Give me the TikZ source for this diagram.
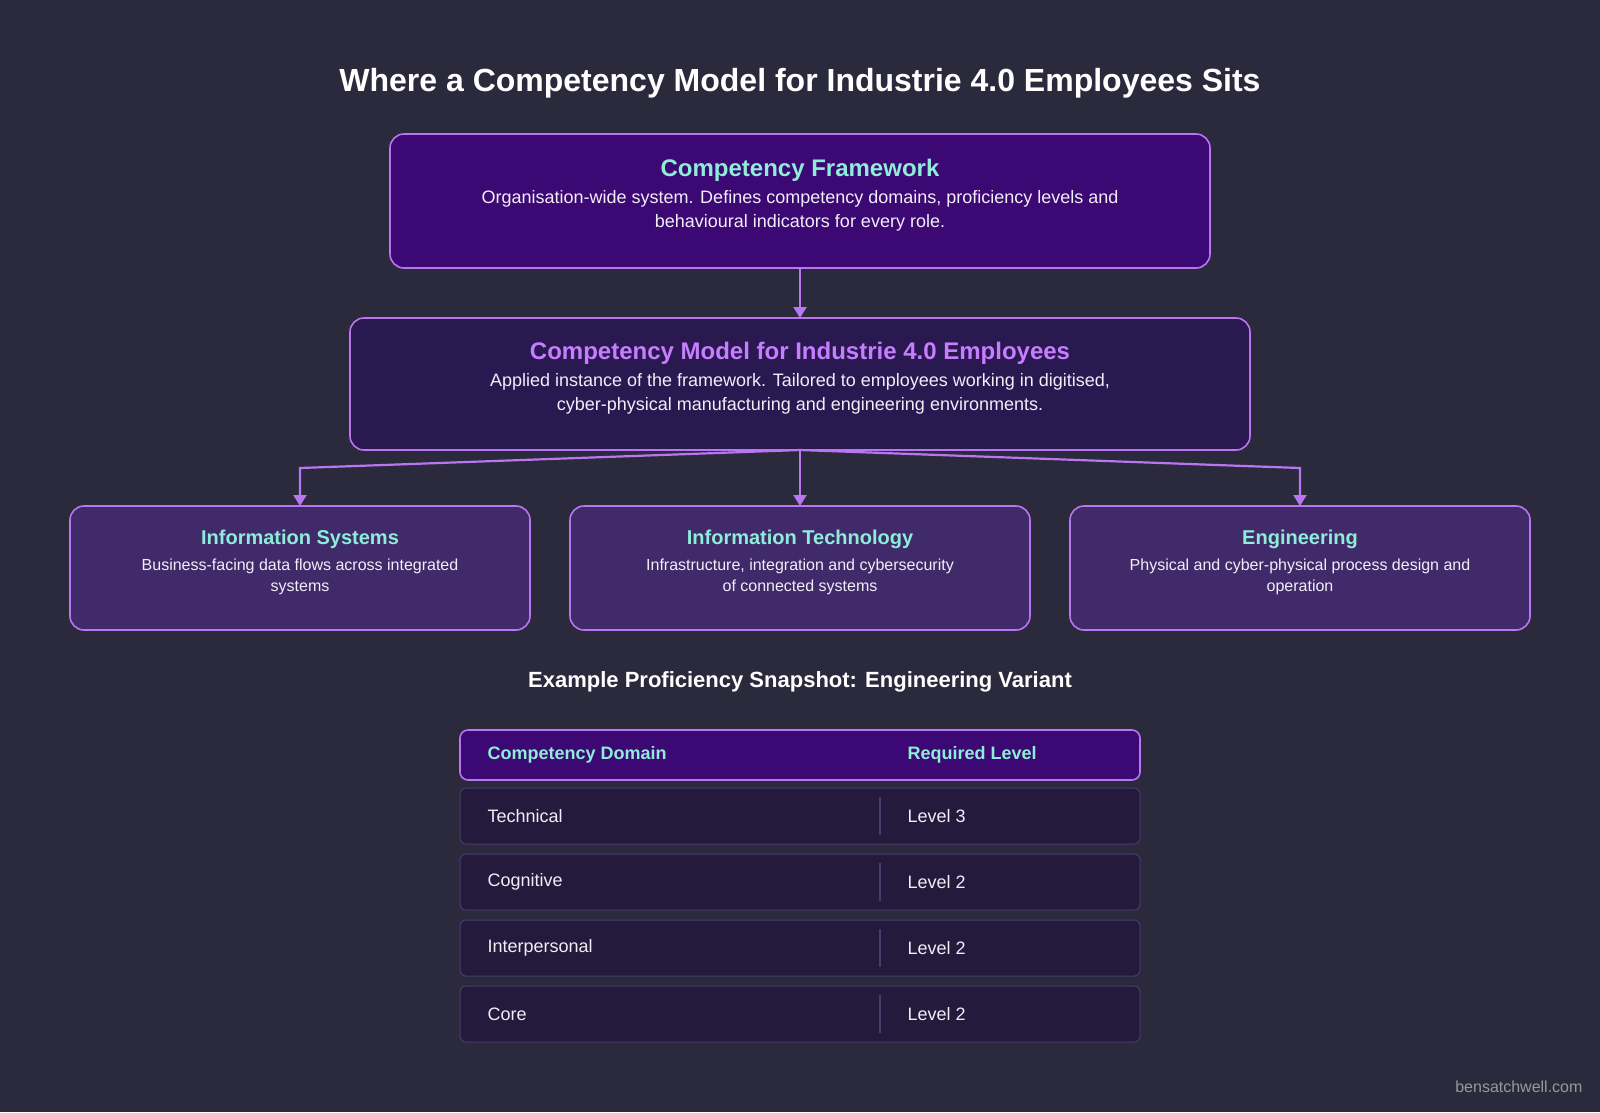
\documentclass[tikz,border=0pt]{standalone}
\usepackage{fontspec}
\setmainfont{Liberation Sans}
\usetikzlibrary{arrows.meta}
\definecolor{bg}{HTML}{2B2A3C}
\definecolor{topf}{HTML}{3C0873}
\definecolor{midf}{HTML}{2A1850}
\definecolor{lowf}{HTML}{402A6A}
\definecolor{bord}{HTML}{B876F0}
\definecolor{rowf}{HTML}{231A3C}
\definecolor{rowb}{HTML}{4A3C6A}
\definecolor{teal}{HTML}{8EEDD8}
\definecolor{mag}{HTML}{C77DFF}
\definecolor{txt}{HTML}{F2EEF8}
\begin{document}
\begin{tikzpicture}[x=1pt,y=-1pt,
 box/.style={draw=bord,line width=1.6pt,rounded corners=14pt},
 row/.style={draw=rowb,line width=1pt,fill=rowf,rounded corners=6pt},
 arr/.style={draw=bord,line width=2.2pt,-{Triangle[length=11pt,width=13pt]}},
 hd/.style={font=\fontsize{24}{28}\selectfont\bfseries,text=teal},
 bd/.style={font=\fontsize{18}{24}\selectfont,text=txt,align=center},
 sh/.style={font=\fontsize{20}{24}\selectfont\bfseries,text=teal},
 sb/.style={font=\fontsize{16}{21}\selectfont,text=txt,align=center},
 cell/.style={font=\fontsize{18}{22}\selectfont,text=txt,anchor=west}]
\fill[bg] (0,0) rectangle (1600,1112);
\node[font=\fontsize{32}{38}\selectfont\bfseries,text=white] (title) at (800,83) {Where a Competency Model for Industrie 4.0 Employees Sits};
% framework
\draw[box,fill=topf] (390,134) rectangle (1210,268);
\node (fw) at (800,201) {};
\node[hd] (fwh) at (800,170) {Competency Framework};
\node[bd] (fwb) at (800,211) {Organisation-wide system. Defines competency domains, proficiency levels and\\behavioural indicators for every role.};
% model
\draw[box,fill=midf] (350,318) rectangle (1250,450);
\node[hd,text=mag] (mh) at (800,353) {Competency Model for Industrie 4.0 Employees};
\node[bd] (mb) at (800,394) {Applied instance of the framework. Tailored to employees working in digitised,\\cyber-physical manufacturing and engineering environments.};
\coordinate (fwbot) at (800,268);
\coordinate (mtop) at (800,318);
\coordinate (mbot) at (800,450);
\draw[arr] (fwbot) -- (mtop);
% lower
\foreach \cx/\nm in {300/is,800/it,1300/en}{
 \draw[box,fill=lowf] (\cx-230,506) rectangle (\cx+230,630);
 \coordinate (\nm top) at (\cx,506);
}
\node[sh] at (300,539) {Information Systems};
\node[sb] at (300,577) {Business-facing data flows across integrated\\systems};
\node[sh] at (800,539) {Information Technology};
\node[sb] at (800,577) {Infrastructure, integration and cybersecurity\\of connected systems};
\node[sh] at (1300,539) {Engineering};
\node[sb] at (1300,577) {Physical and cyber-physical process design and\\operation};
\draw[arr] (mbot) -- (300,468) -- (istop);
\draw[arr] (mbot) -- (ittop);
\draw[arr] (mbot) -- (1300,468) -- (entop);
% table
\node[font=\fontsize{22}{26}\selectfont\bfseries,text=white] (sub) at (800,682) {Example Proficiency Snapshot: Engineering Variant};
\draw[draw=bord,line width=1.6pt,fill=topf,rounded corners=8pt] (460,730) rectangle (1140,780);
\node[cell,text=teal,font=\fontsize{18}{22}\selectfont\bfseries] at (484,755) {Competency Domain};
\node[cell,text=teal,font=\fontsize{18}{22}\selectfont\bfseries] at (904,755) {Required Level};
\foreach \y/\a/\b in {788/Technical/Level 3,854/Cognitive/Level 2,920/Interpersonal/Level 2,986/Core/Level 2}{
 \draw[row] (460,\y) rectangle (1140,\y+56);
 \draw[rowb,line width=1.2pt] (880,\y+9) -- (880,\y+47);
 \node[cell] at (484,\y+28) {\a};
 \node[cell] at (904,\y+28) {\b};
}
\node[font=\fontsize{16}{20}\selectfont,text=gray!80,anchor=east] (foot) at (1586,1087) {bensatchwell.com};
\end{tikzpicture}
\end{document}
